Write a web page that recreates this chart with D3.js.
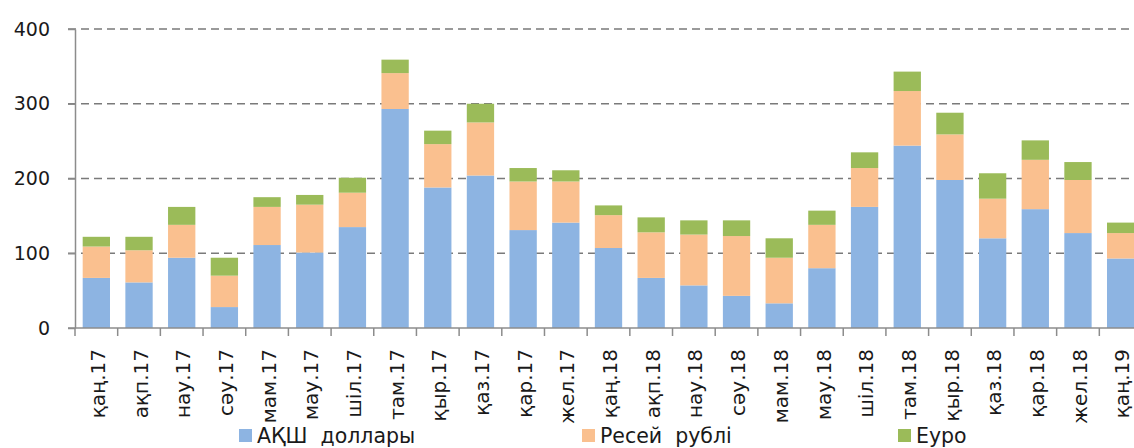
<!DOCTYPE html>
<html>
<head>
<meta charset="utf-8">
<script src="https://cdn.jsdelivr.net/npm/d3@7"></script>
<style>
  body { margin: 0; background: #fff; }
  svg { display: block; font-family: "DejaVu Sans", sans-serif; }
</style>
</head>
<body>
<div id="chart"></div>
<script>
// months
var months = ["қаң.17","ақп.17","нау.17","сәу.17","мам.17","мау.17","шіл.17","там.17","қыр.17","қаз.17","қар.17","жел.17",
              "қаң.18","ақп.18","нау.18","сәу.18","мам.18","мау.18","шіл.18","там.18","қыр.18","қаз.18","қар.18","жел.18","қаң.19"];
var usd = [67,61,94,28,111,101,135,293,188,204,131,141,107,67,57,43,33,80,162,244,198,120,159,127,93];
var rub = [42,43,44,42,51,64,46,48,58,71,65,55,44,61,68,80,61,58,52,73,61,53,66,71,34];
var eur = [13,18,24,24,13,13,20,18,18,25,18,15,13,20,19,21,26,19,21,26,29,34,26,24,14];
var seriesNames = ["АҚШ  доллары", "Ресей  рублі", "Еуро"];
var yTicks = [0, 100, 200, 300, 400];

var colors = ["#8DB4E2", "#FAC08F", "#9BBB59"];

var width = 1134, height = 448;
var plotLeft = 75, plotRight = 1142, plotTop = 29, plotBottom = 328;

var svg = d3.select("#chart").append("svg")
    .attr("width", width)
    .attr("height", height);

var rows = months.map(function (m, i) {
    return { month: m, usd: usd[i], rub: rub[i], eur: eur[i] };
});
var stack = d3.stack().keys(["usd", "rub", "eur"])(rows);

var x = d3.scaleBand()
    .domain(months)
    .range([plotLeft, plotRight])
    .paddingInner(0.36)
    .paddingOuter(0.18);
var step = x.step();

var y = d3.scaleLinear()
    .domain([0, 400])
    .range([plotBottom, plotTop]);

// gridlines (dashed)
svg.append("g")
    .selectAll("line")
    .data(yTicks.filter(function (d) { return d > 0; }))
    .enter()
    .append("line")
    .attr("x1", plotLeft - 7)
    .attr("x2", width)
    .attr("y1", function (d) { return y(d); })
    .attr("y2", function (d) { return y(d); })
    .attr("stroke", "#7a7a7a")
    .attr("stroke-width", 1.5)
    .attr("stroke-dasharray", "8,5");

// bars
svg.append("g")
    .selectAll("g")
    .data(stack)
    .enter()
    .append("g")
    .attr("fill", function (d, i) { return colors[i]; })
    .selectAll("rect")
    .data(function (d) { return d; })
    .enter()
    .append("rect")
    .attr("x", function (d) { return x(d.data.month); })
    .attr("width", x.bandwidth())
    .attr("y", function (d) { return y(d[1]); })
    .attr("height", function (d) { return y(d[0]) - y(d[1]); });

// y axis
var yAxis = svg.append("g")
    .attr("transform", "translate(" + plotLeft + ",0)")
    .call(d3.axisLeft(y).tickValues(yTicks).tickSize(7).tickPadding(18).tickSizeOuter(0));
yAxis.select(".domain").attr("stroke", "#8c8c8c").attr("stroke-width", 1.5);
yAxis.selectAll(".tick line").attr("stroke", "#8c8c8c").attr("stroke-width", 1.5);
yAxis.selectAll(".tick text")
    .attr("font-family", "DejaVu Sans")
    .attr("font-size", 19)
    .attr("fill", "#1a1a1a");

// x axis line + ticks between bands
svg.append("line")
    .attr("x1", plotLeft - 7).attr("x2", width)
    .attr("y1", plotBottom).attr("y2", plotBottom)
    .attr("stroke", "#8c8c8c").attr("stroke-width", 1.5);

var edges = months.map(function (m) { return x(m) - step * 0.18; });
edges.push(x(months[months.length - 1]) + x.bandwidth() + step * 0.18);
svg.append("g")
    .selectAll("line")
    .data(edges)
    .enter()
    .append("line")
    .attr("x1", function (d) { return d; })
    .attr("x2", function (d) { return d; })
    .attr("y1", plotBottom)
    .attr("y2", plotBottom + 8)
    .attr("stroke", "#8c8c8c")
    .attr("stroke-width", 1.5);

// rotated month labels
svg.append("g")
    .selectAll("text")
    .data(months)
    .enter()
    .append("text")
    .attr("transform", function (d) {
        return "translate(" + (x(d) + x.bandwidth() / 2 + 2) + "," + 349 + ") rotate(-90)";
    })
    .attr("text-anchor", "end")
    .attr("dy", "0.33em")
    .attr("font-size", 20)
    .attr("fill", "#1a1a1a")
    .text(function (d) { return d; });

// legend
var legendX = [239, 582, 898];
var legend = svg.append("g")
    .selectAll("g")
    .data(seriesNames)
    .enter()
    .append("g")
    .attr("transform", function (d, i) { return "translate(" + legendX[i] + ",0)"; });
legend.append("rect")
    .attr("x", 0).attr("y", 429)
    .attr("width", 13).attr("height", 13)
    .attr("fill", function (d, i) { return colors[i]; });
legend.append("text")
    .attr("x", 18).attr("y", 443)
    .attr("font-size", 20.5)
    .attr("fill", "#1a1a1a")
    .style("white-space", "pre")
    .text(function (d) { return d; });
</script>
</body>
</html>
